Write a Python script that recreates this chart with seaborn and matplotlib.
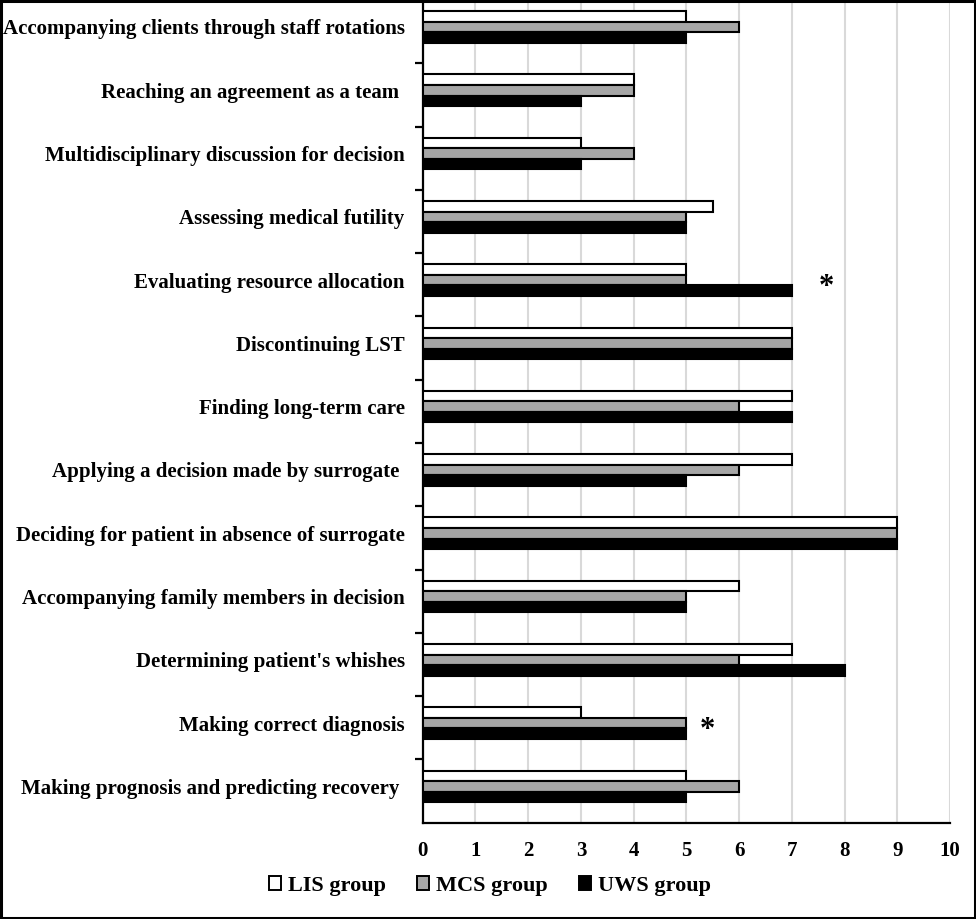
import matplotlib.pyplot as plt
import numpy as np
import pandas as pd
import seaborn as sns
from matplotlib.patches import Patch, Rectangle

# categories, top to bottom
tasks = [
    "Accompanying clients through staff rotations",
    "Reaching an agreement as a team ",
    "Multidisciplinary discussion for decision",
    "Assessing medical futility",
    "Evaluating resource allocation",
    "Discontinuing LST",
    "Finding long-term care",
    "Applying a decision made by surrogate ",
    "Deciding for patient in absence of surrogate",
    "Accompanying family members in decision",
    "Determining patient's whishes",
    "Making correct diagnosis",
    "Making prognosis and predicting recovery ",
]
groups = ["LIS group", "MCS group", "UWS group"]
lis = [5, 4, 3, 5.5, 5, 7, 7, 7, 9, 6, 7, 3, 5]
mcs = [6, 4, 4, 5, 5, 7, 6, 6, 9, 5, 6, 5, 6]
uws = [5, 3, 3, 5, 7, 7, 7, 5, 9, 5, 8, 5, 5]
# significant differences: (task index, gap after the longest bar)
significant = [(4, 0.65), (11, 0.4)]

colors = ["#FFFFFF", "#A6A6A6", "#000000"]

df = pd.DataFrame({
    "task": tasks * 3,
    "group": np.repeat(groups, len(tasks)),
    "score": lis + mcs + uws,
})

sns.set_style("white")
plt.rcParams["font.family"] = ["Liberation Serif", "DejaVu Serif"]
plt.rcParams["font.weight"] = "bold"
for key in ["text.color", "xtick.color", "ytick.color", "axes.labelcolor"]:
    plt.rcParams[key] = "black"

fig = plt.figure(figsize=(9.76, 9.19), dpi=100)
ax = fig.add_axes([0.4331, 0.1048, 0.5403, 0.8952])

sns.barplot(
    data=df, x="score", y="task", hue="group",
    order=tasks, hue_order=groups, palette=colors,
    width=0.5, edgecolor="black", linewidth=1.5,
    saturation=1, legend=False, ax=ax, zorder=3,
)

n = len(tasks)
off = 0.074  # bars sit a little above the middle of each band
ax.set_ylim(n - 0.5 + off, -0.5 + off)
ax.set_xlim(0, 10)
ax.set_xticks(range(0, 11))
ax.set_xlabel("")
ax.set_ylabel("")

ax.set_axisbelow(True)
ax.xaxis.grid(True, color="#D9D9D9", linewidth=1.5)
ax.yaxis.grid(False)

for side in ["top", "right"]:
    ax.spines[side].set_visible(False)
for side in ["left", "bottom"]:
    ax.spines[side].set_color("black")
    ax.spines[side].set_linewidth(1.6)

ax.tick_params(axis="y", which="major", length=0, pad=13, labelsize=15)
ax.set_yticks(np.arange(n - 1) + 0.5 + off, minor=True)
ax.tick_params(axis="y", which="minor", length=6, width=1.6, color="black",
               direction="out", left=True)
ax.tick_params(axis="x", length=0, pad=13, labelsize=15)
for lab in ax.get_yticklabels() + ax.get_xticklabels():
    lab.set_fontweight("bold")
    lab.set_color("black")

for idx, gap in significant:
    top = max(lis[idx], mcs[idx], uws[idx])
    ax.text(top + gap, idx + 0.11, "*", ha="center", va="center",
            fontsize=22, fontweight="bold", zorder=4)

handles = [Patch(facecolor=c, edgecolor="black", linewidth=1.4, label=g)
           for c, g in zip(colors, groups)]
fig.legend(handles=handles, loc="center", bbox_to_anchor=(0.502, 0.036),
           ncol=3, frameon=False, handlelength=0.55, handleheight=0.55,
           handletextpad=0.3, columnspacing=1.4,
           prop={"size": 16, "weight": "bold"})

fig.patches.append(Rectangle((0.0015, 0.0015), 0.997, 0.997,
                             transform=fig.transFigure, fill=False,
                             edgecolor="black", linewidth=2.2, zorder=10))

fig.savefig("out.png", dpi=100)
